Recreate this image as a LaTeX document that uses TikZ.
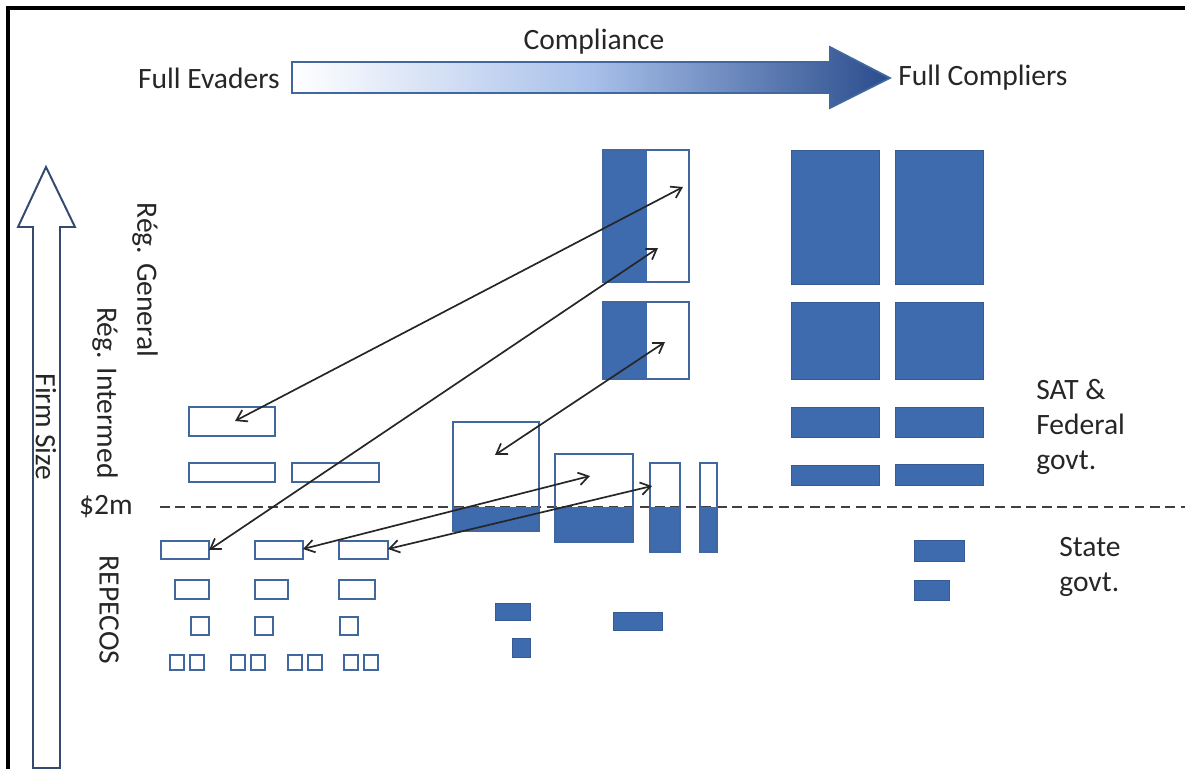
\documentclass[tikz,border=0pt]{standalone}
\usepackage{fontspec}
\setmainfont{Carlito}
\usetikzlibrary{arrows.meta}
\definecolor{boxblue}{RGB}{62,106,174}
\definecolor{lineblue}{RGB}{65,104,158}
\definecolor{deepblue}{RGB}{42,76,140}
\definecolor{paleblue}{RGB}{168,192,234}
\definecolor{navyline}{RGB}{52,74,112}
\definecolor{textgray}{RGB}{38,38,38}

\begin{document}
\begin{tikzpicture}[x=0.025cm, y=-0.025cm,
  emptybox/.style={draw=lineblue, line width=1.6pt},
  fullbox/.style={fill=boxblue, draw=boxblue!85!black, line width=0.6pt},
  link/.style={<->, >={Straight Barb[length=7pt,width=9pt]}, line width=1.2pt, draw=black!85},
  lbl/.style={font=\fontsize{21}{25}\selectfont, text=textgray, inner sep=0pt},
  vlbl/.style={lbl, rotate=-90}]

\useasboundingbox (0,0) rectangle (1185,769);

% frame
\draw [line width=2.2pt] (8,769) -- (8,8) -- (1185,8);

% compliance arrow
\draw [draw=lineblue, line width=1.2pt, left color=white, right color=deepblue, middle color=paleblue]
  (292,62) -- (830,62) -- (830,47) -- (890,78) -- (830,108) -- (830,93) -- (292,93) -- cycle;
\node [lbl] (compl) at (594,42) {Compliance};
\node [lbl, anchor=east] (evad) at (280,78) {Full Evaders};
\node [lbl, anchor=west] (fullc) at (898,78) {Full Compliers};

% firm size arrow
\draw [draw=navyline, line width=1.4pt, fill=white]
  (33,768) -- (33,227) -- (18,227) -- (46,167) -- (75,227) -- (60,227) -- (60,768) -- cycle;
\node [vlbl] (fsize) at (46,427) {Firm Size};

% regime labels
\node [vlbl] (rgen) at (145,280) {Rég. General};
\node [vlbl] (rint) at (105,393) {Rég. Intermed};
\node [vlbl] (repe) at (109,610) {REPECOS};
\node [lbl] (cut) at (106,507) {\$2m};

% threshold
\draw [dashed, dash pattern=on 7pt off 4pt, line width=1.3pt, draw=black!75] (160,507) -- (1185,507);

% evaders, above threshold
\draw [emptybox] (189,407) rectangle (275,436);
\draw [emptybox] (189,463) rectangle (275,482);
\draw [emptybox] (292,463) rectangle (379,482);

% evaders, below threshold
\draw [emptybox] (161,541) rectangle (209,559);
\draw [emptybox] (255,541) rectangle (303,559);
\draw [emptybox] (339,541) rectangle (388,559);
\draw [emptybox] (175,580) rectangle (209,599);
\draw [emptybox] (255,580) rectangle (288,599);
\draw [emptybox] (339,580) rectangle (375,599);
\draw [emptybox] (191,617) rectangle (209,635);
\draw [emptybox] (255,617) rectangle (273,635);
\draw [emptybox] (340,617) rectangle (358,635);
\foreach \xa in {170,190,231,251,288,308,344,364}
  \draw [emptybox] (\xa,655) rectangle (\xa+14,670);

% partial compliers, mixed boxes
\fill [boxblue] (453,507) rectangle (539,531);
\draw [emptybox] (453,422) rectangle (539,531);
\fill [boxblue] (555,507) rectangle (633,542);
\draw [emptybox] (555,454) rectangle (633,542);
\fill [boxblue] (650,507) rectangle (680,552);
\draw [emptybox] (650,463) rectangle (680,552);
\fill [boxblue] (700,507) rectangle (717,552);
\draw [emptybox] (700,463) rectangle (717,552);
\draw [fullbox] (495,603) rectangle (530,620);
\draw [fullbox] (512,638) rectangle (530,657);
\draw [fullbox] (613,612) rectangle (662,630);

\fill [boxblue] (603,150) rectangle (647,282);
\draw [emptybox] (603,150) rectangle (689,282);
\fill [boxblue] (603,302) rectangle (647,379);
\draw [emptybox] (603,302) rectangle (689,379);

% full compliers
\draw [fullbox] (791,150) rectangle (879,284);
\draw [fullbox] (895,150) rectangle (983,284);
\draw [fullbox] (791,302) rectangle (879,379);
\draw [fullbox] (895,302) rectangle (983,379);
\draw [fullbox] (791,407) rectangle (879,437);
\draw [fullbox] (895,407) rectangle (983,437);
\draw [fullbox] (791,465) rectangle (879,485);
\draw [fullbox] (895,464) rectangle (983,485);
\draw [fullbox] (914,540) rectangle (964,561);
\draw [fullbox] (914,580) rectangle (949,600);

% authority labels
\node [lbl, anchor=west, align=left] (sat) at (1036,427) {SAT \&\\Federal\\govt.};
\node [lbl, anchor=west, align=left] (state) at (1059,567) {State\\govt.};

% movement between groups
\coordinate (genA) at (683,187);
\coordinate (genL) at (235,421);
\coordinate (genB) at (658,248);
\coordinate (repA) at (209,550);
\coordinate (genC) at (665,342);
\coordinate (bigM) at (495,455);
\coordinate (midM) at (590,476);
\coordinate (repB) at (303,549);
\coordinate (barM) at (652,486);
\coordinate (repC) at (388,549);
\draw [link] (genL) -- (genA);
\draw [link] (repA) -- (genB);
\draw [link] (bigM) -- (genC);
\draw [link] (repB) -- (midM);
\draw [link] (repC) -- (barM);
\end{tikzpicture}
\end{document}
